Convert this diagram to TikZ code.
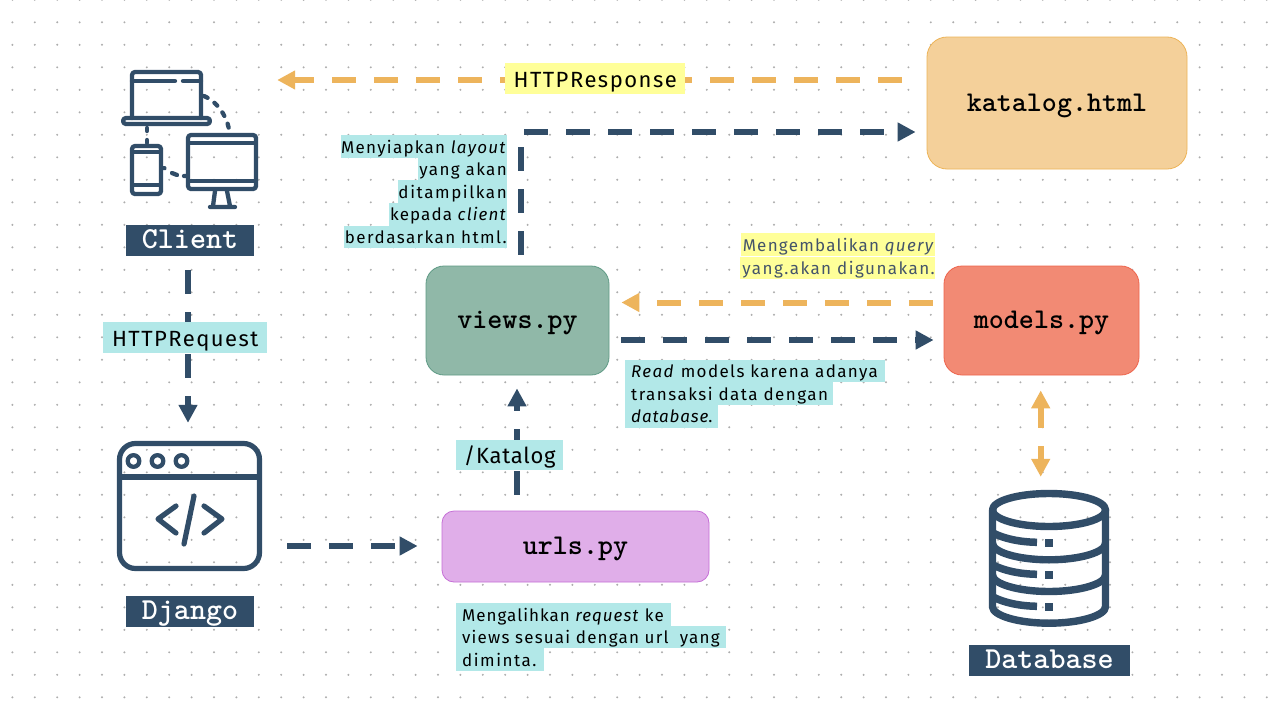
\documentclass[tikz,border=0pt]{standalone}
\usepackage{fontspec}
\usetikzlibrary{arrows.meta}
\setmainfont{Fira Sans}
\newcommand{\ls}[1]{\addfontfeature{LetterSpace=#1}}
\definecolor{navy}{HTML}{314D68}
\definecolor{amber}{HTML}{EDB45C}
\definecolor{tealhl}{HTML}{B2E8E8}
\definecolor{yellowhl}{HTML}{FFFF99}
\definecolor{slate}{HTML}{44546A}
\tikzset{
  conn/.style={line width=6pt,dash pattern=on 24pt off 18pt,-{Triangle[length=18pt,width=18pt]}},
  amberconn/.style={conn,draw=amber,color=amber},
  navyline/.style={conn,draw=navy,color=navy},
  boxnode/.style={draw,line width=0.8pt,rounded corners=#1,inner sep=0pt,text height=20pt,text depth=4pt,font=\ttfamily\bfseries\fontsize{28.6}{28.6}\selectfont},
  tag/.style={fill=navy,text=white,inner sep=0pt,text height=23.5pt,text depth=7.5pt,font=\ttfamily\bfseries\fontsize{30.5}{30.5}\selectfont},
  iconarea/.style={inner sep=0pt},
  rowbase/.style={inner sep=0pt,text height=16pt,text depth=3pt,inner ysep=1.8pt,font=\fontsize{17}{20}\selectfont},
  tealrow/.style={rowbase,fill=tealhl},
  yellowrow/.style={rowbase,fill=yellowhl,text=slate},
  biglabel/.style={inner sep=0pt,text height=24pt,text depth=6.5pt,font=\fontsize{22}{24}\selectfont},
  iconline/.style={draw=navy,line width=4.3pt,line cap=round,line join=round},
  dbline/.style={draw=navy,line width=7.4pt,line cap=round,line join=round},
}
\begin{document}
\begin{tikzpicture}[x=1pt,y=-1pt]
\useasboundingbox (0,0) rectangle (1280,720);
\fill[white] (0,0) rectangle (1280,720);
% dotted background
\foreach \i in {0,...,56}{\foreach \j in {0,...,31}{
  \fill[black!32] ({12.4+22.4*\i},{-0.2+22.5*\j}) circle[radius=1.1];
}}
% coloured boxes
\node[boxnode=20pt,fill={rgb,255:red,244;green,208;blue,154},draw={rgb,255:red,237;green,180;blue,88},minimum width=260pt,minimum height=132pt] (katalog) at (1057,103) {katalog.html};
\node[boxnode=18pt,fill={rgb,255:red,242;green,138;blue,116},draw={rgb,255:red,238;green,100;blue,76},minimum width=195pt,minimum height=109pt] (models) at (1041.5,320.5) {models.py};
\node[boxnode=18pt,fill={rgb,255:red,144;green,184;blue,168},draw={rgb,255:red,95;green,154;blue,133},minimum width=183pt,minimum height=109pt] (views) at (517.5,320.5) {views.py};
\node[boxnode=12pt,fill={rgb,255:red,224;green,174;blue,233},draw={rgb,255:red,197;green,111;blue,214},minimum width=267pt,minimum height=71pt] (urls) at (575.5,546.5) {urls.py};
% icon areas and captions
\node[iconarea,minimum width=137pt,minimum height=138pt] (clienticon) at (189.5,139) {};
\node[iconarea,minimum width=145pt,minimum height=130pt] (djangoicon) at (189.5,506) {};
\node[iconarea,minimum width=120pt,minimum height=137pt] (dbicon) at (1049,558.5) {};
\node[tag,minimum width=128pt] (clienttag) at (190,240.5) {Client};
\node[tag,minimum width=128pt] (djangotag) at (190,611) {Django};
\node[tag,minimum width=161pt] (dbtag) at (1049.5,660.5) {Database};
% client icon
\draw[iconline,rounded corners=3pt] (132,118) -- (132,72) -- (201,72) -- (201,118);
\draw[iconline] (132,81) -- (175,81) (183,81) -- (201,81);
\draw[iconline,rounded corners=3pt] (123,118) rectangle (210,124);
\draw[iconline,rounded corners=3pt] (132,146) rectangle (161,194);
\draw[iconline,line cap=butt] (132,152) -- (161,152) (132,185) -- (161,185);
\draw[iconline,rounded corners=3pt] (188,135) rectangle (256,189);
\draw[iconline,line cap=butt] (188,143) -- (256,143) (188,181) -- (256,181);
\draw[iconline] (215,191) -- (213,206) (227,191) -- (230,206) (210,207) -- (235,207);
\draw[iconline,dash pattern=on 4pt off 8.5pt] (204,96) .. controls (216,101) and (226,114) .. (229,129);
\draw[iconline] (147,128) -- (147,131) (147,140) -- (147,143);
\draw[iconline] (164,168) -- (164.5,168.2) (172,173) -- (177,175) (184,176) -- (186,176);
% django icon
\draw[navy,line width=5.2pt,rounded corners=16pt] (119.5,443.5) rectangle (259.5,568.5);
\draw[navy,line width=5.2pt] (119.5,477) -- (259.5,477);
\foreach \cx in {133.5,157.5,181.5}{\draw[navy,line width=4.3pt] (\cx,461) circle[radius=5.8];}
\draw[navy,line width=5.2pt,line cap=round,line join=round] (176,506) -- (158,519) -- (176,533) (204,506) -- (222,519) -- (204,533) (194,496) -- (184,544);
% database icon
\draw[dbline] (1049,510) ellipse[x radius=56.5,y radius=16.5];
\draw[dbline] (992.5,510) -- (992.5,606.7) .. controls (992.5,615.5) and (1018,623.2) .. (1049,623.2) .. controls (1080,623.2) and (1105.5,615.5) .. (1105.5,606.7) -- (1105.5,510);
\foreach \d in {543.3,575}{
  \draw[dbline] (992.5,\d) .. controls (992.5,\d+8.8) and (1018,\d+16.5) .. (1049,\d+16.5) .. controls (1080,\d+16.5) and (1105.5,\d+8.8) .. (1105.5,\d);
}
\foreach \d in {0,32,64}{
  \draw[navy,line width=7.5pt] (993,533+\d) .. controls (1005,539+\d) and (1020,542+\d) .. (1037,542.3+\d);
  \fill[navy] (1045,538.5+\d) rectangle (1053,547+\d);
}
% connectors
\draw[amberconn,shorten <=25pt,shorten >=19pt] ([yshift=23pt]katalog.west) -- ([yshift=59pt]clienticon.east);
\draw[navyline,shorten <=14pt,shorten >=18pt] ([xshift=-2pt]clienttag.south) -- ([xshift=-1.5pt]djangoicon.north);
\draw[navyline,shorten <=25pt,shorten >=24pt] ([yshift=-40pt]djangoicon.east) -- ([yshift=0.5pt]urls.west);
\draw[navyline,shorten <=16pt,shorten >=13pt] ([xshift=-58.5pt]urls.north) -- ([xshift=-0.5pt]views.south);
\draw[navyline,shorten <=11pt,shorten >=11pt] ([xshift=3.5pt]views.north) |- ([yshift=-29pt]katalog.west);
\draw[amberconn,shorten <=11pt,shorten >=12pt] ([yshift=18pt]models.west) -- ([yshift=18pt]views.east);
\draw[navyline,shorten <=12pt,shorten >=10pt] ([yshift=-19.5pt]views.east) -- ([yshift=-19.5pt]models.west);
\draw[draw=amber,color=amber,line width=6pt,dash pattern=on 21pt off 18pt,{Triangle[length=18pt,width=18pt]}-{Triangle[length=18pt,width=18pt]},shorten <=15pt,shorten >=13pt] ([xshift=-0.8pt]models.south) -- ([xshift=-8.3pt]dbicon.north);
% connector labels
\node[biglabel,fill=yellowhl,anchor=north west] (resp) at (505,63) {\makebox[180pt][c]{\ls{6.8}HTTPResponse}};
\node[biglabel,fill=tealhl,anchor=north west] (req) at (103,322) {\makebox[164pt][c]{\ls{6.7}HTTPRequest}};
\node[biglabel,fill=tealhl,anchor=north west] (kat) at (456,439.5) {\makebox[107pt][c]{\ls{3.5}/Katalog}};
% notes
\node[tealrow,anchor=north east] (m1) at (507,135) {\makebox[166pt][r]{\ls{7.5}Menyiapkan \textit{layout}}};
\node[tealrow,anchor=north east] (m2) at (507,157.6) {\makebox[89pt][r]{\ls{8.3}yang akan}};
\node[tealrow,anchor=north east] (m3) at (507,180.2) {\makebox[109pt][r]{\ls{9.4}ditampilkan}};
\node[tealrow,anchor=north east] (m4) at (507,202.8) {\makebox[118pt][r]{\ls{6.6}kepada \textit{client}}};
\node[tealrow,anchor=north east] (m5) at (507,225.4) {\makebox[163pt][r]{\ls{8.5}berdasarkan html.}};
\node[yellowrow,anchor=north east] (q1) at (935,233) {\makebox[194pt][r]{\ls{7.4}Mengembalikan \textit{query}}};
\node[yellowrow,anchor=north east] (q2) at (935,256.5) {\makebox[195pt][r]{\ls{8.6}yang.akan digunakan.}};
\node[tealrow,anchor=north west] (r1) at (625,359.5) {\makebox[260pt][l]{\hspace*{6pt}\ls{8}\textit{Read} models karena adanya}};
\node[tealrow,anchor=north west] (r2) at (625,382.2) {\makebox[208pt][l]{\hspace*{6pt}\ls{8.6}transaksi data dengan}};
\node[tealrow,anchor=north west] (r3) at (625,404.8) {\makebox[93pt][l]{\hspace*{6pt}\ls{5}\textit{database}.}};
\node[tealrow,anchor=north west] (u1) at (456,603) {\makebox[215pt][l]{\hspace*{6pt}\ls{6}Mengalihkan \textit{request} ke}};
\node[tealrow,anchor=north west] (u2) at (456,625.6) {\makebox[270pt][l]{\hspace*{6pt}\ls{7}views sesuai dengan url~ yang}};
\node[tealrow,anchor=north west] (u3) at (456,648.2) {\makebox[88pt][l]{\hspace*{6pt}\ls{9}diminta.}};
\end{tikzpicture}
\end{document}
